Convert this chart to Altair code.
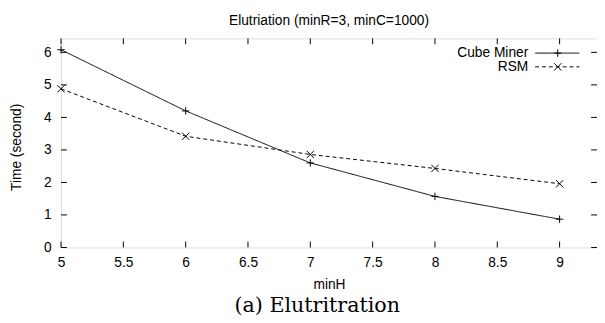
import altair as alt
import pandas as pd

# ---- data ----
min_h = [5, 6, 7, 8, 9]
cube_miner = [6.08, 4.2, 2.6, 1.57, 0.87]
rsm = [4.88, 3.42, 2.86, 2.43, 1.96]
series_names = ["Cube Miner", "RSM"]
x_ticks = [5, 5.5, 6, 6.5, 7, 7.5, 8, 8.5, 9]
y_ticks = [0, 1, 2, 3, 4, 5, 6]

title_text = "Elutriation (minR=3, minC=1000)"
x_title = "minH"
y_title = "Time (second)"
caption = "(a) Elutritration"

W, H = 546, 213
FONT = "Liberation Sans"

df = pd.DataFrame({
    "minH": min_h * 2,
    "time": cube_miner + rsm,
    "series": [series_names[0]] * len(min_h) + [series_names[1]] * len(min_h),
})
xt = pd.DataFrame({"t": x_ticks})
yt = pd.DataFrame({"t": y_ticks})

x_scale = alt.Scale(domain=[5, 9.3], nice=False, zero=False)
y_scale = alt.Scale(domain=[0, 6.43], nice=False, zero=False)

x_axis = alt.Axis(values=x_ticks, format="~g", title=x_title,
                  domain=False, ticks=True, tickSize=0, labelPadding=8,
                  labelOverlap=False, labelFlush=False,
                  labelFontSize=14, labelFont=FONT, labelColor="black",
                  titleFontSize=14, titleFont=FONT, titleFontWeight="normal",
                  titleColor="black", titleX=W / 2, titleY=38,
                  titleBaseline="middle", titleAlign="center", grid=False)
y_axis = alt.Axis(values=y_ticks, format="d", title=y_title,
                  domain=False, ticks=True, tickSize=0, labelPadding=10,
                  labelOverlap=False, labelFlush=False,
                  labelFontSize=14, labelFont=FONT, labelColor="black",
                  titleFontSize=14, titleFont=FONT, titleFontWeight="normal",
                  titleColor="black", titleX=-45, titleY=H / 2 + 4,
                  titleAngle=270, titleBaseline="middle", titleAlign="center",
                  grid=False)

PLUS = "M-1,0L1,0M0,-1L0,1"
CROSS = "M-1,-1L1,1M-1,1L1,-1"

base = alt.Chart(df)

dash_scale = alt.Scale(domain=series_names, range=[[1, 0], [4, 3]])
shape_scale = alt.Scale(domain=series_names, range=[PLUS, CROSS])

lines = base.mark_line(color="black", strokeWidth=1).encode(
    x=alt.X("minH:Q", scale=x_scale, axis=x_axis),
    y=alt.Y("time:Q", scale=y_scale, axis=y_axis),
    strokeDash=alt.StrokeDash("series:N", scale=dash_scale, legend=None),
    detail="series:N",
)
points = base.mark_point(color="black", strokeWidth=1, filled=False, size=56, opacity=1).encode(
    x=alt.X("minH:Q", scale=x_scale, axis=x_axis),
    y=alt.Y("time:Q", scale=y_scale, axis=y_axis),
    shape=alt.Shape("series:N", scale=shape_scale, legend=None),
)

tick_len = 6
bottom_ticks = alt.Chart(xt).mark_rule(color="black", strokeWidth=1).encode(
    x=alt.X("t:Q", scale=x_scale, axis=x_axis), y=alt.value(H), y2=alt.value(H - tick_len))
top_ticks = alt.Chart(xt).mark_rule(color="black", strokeWidth=1).encode(
    x=alt.X("t:Q", scale=x_scale, axis=x_axis), y=alt.value(0), y2=alt.value(tick_len))
left_ticks = alt.Chart(yt).mark_rule(color="black", strokeWidth=1).encode(
    y=alt.Y("t:Q", scale=y_scale, axis=y_axis), x=alt.value(0), x2=alt.value(tick_len))
right_ticks = alt.Chart(yt).mark_rule(color="black", strokeWidth=1).encode(
    y=alt.Y("t:Q", scale=y_scale, axis=y_axis), x=alt.value(W), x2=alt.value(W - tick_len))

# legend (gnuplot style: text right-aligned, then sample)
leg_layers = []
leg_rows = [15, 29]
for i, name in enumerate(series_names):
    ld = pd.DataFrame({"s": [name]})
    leg_layers.append(alt.Chart(ld).mark_text(align="right", baseline="middle",
                                              font=FONT, fontSize=14, color="black").encode(
        text="s:N", x=alt.value(476), y=alt.value(leg_rows[i])))
    leg_layers.append(alt.Chart(ld).mark_rule(color="black", strokeWidth=1,
                                              strokeDash=[1, 0] if i == 0 else [4, 3]).encode(
        x=alt.value(483), x2=alt.value(528), y=alt.value(leg_rows[i])))
    leg_layers.append(alt.Chart(ld).mark_point(color="black", strokeWidth=1, filled=False,
                                               size=56, opacity=1,
                                               shape=PLUS if i == 0 else CROSS).encode(
        x=alt.value(506), y=alt.value(leg_rows[i])))

cap = alt.Chart(pd.DataFrame({"c": [caption]})).mark_text(
    align="center", baseline="middle", font="DejaVu Serif", fontSize=21, color="black").encode(
    text="c:N", x=alt.value(261), y=alt.value(273))

chart = alt.layer(lines, points, bottom_ticks, top_ticks, left_ticks, right_ticks,
                  *leg_layers, cap).properties(
    width=W, height=H,
    title=alt.TitleParams(title_text, fontSize=14, font=FONT, fontWeight="normal",
                          color="black", anchor="middle", offset=10),
    autosize=alt.AutoSizeParams(type="none"),
    padding={"left": 54, "top": 28, "right": 0, "bottom": 74},
).configure_view(stroke="black", strokeWidth=1.5).configure(background="white")

chart.save("out.html", embed_options={"renderer": "svg", "actions": False})
